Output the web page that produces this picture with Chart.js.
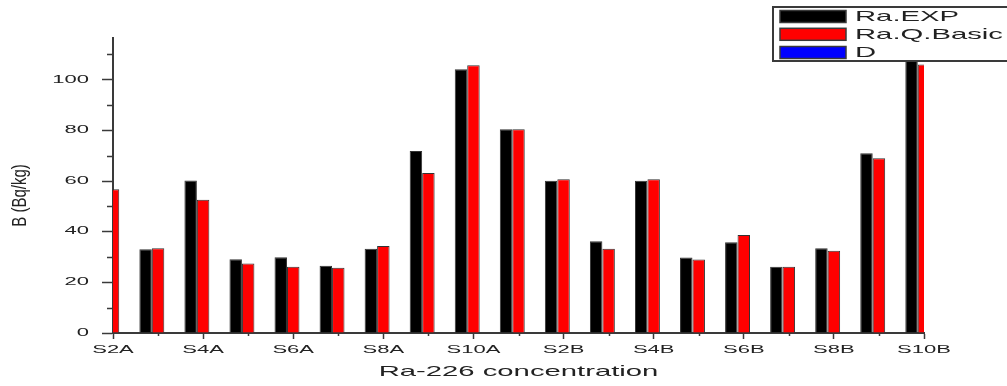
<!DOCTYPE html>
<html>
<head>
<meta charset="utf-8">
<script src="https://cdn.jsdelivr.net/npm/chart.js@4"></script>
<style>
  html, body { margin: 0; padding: 0; background: #ffffff; }
  #wrap { width: 1007px; height: 386px; position: relative; }
</style>
</head>
<body>
<div id="wrap"><canvas id="c" width="1007" height="386"></canvas></div>
<script>
// ---- data ----
const categories = ['S2A','S3A','S4A','S5A','S6A','S7A','S8A','S9A','S10A','S1B','S2B','S3B','S4B','S5B','S6B','S7B','S8B','S9B','S10B'];
const raExp     = [57, 33.1, 60.2, 29.1, 29.9, 26.6, 33.3, 71.9, 104.2, 80.5, 60.1, 36.2, 60.1, 29.8, 35.8, 26.2, 33.5, 71.0, 112];
const raQBasic  = [56.8, 33.5, 52.6, 27.4, 26.2, 25.8, 34.4, 63.2, 105.7, 80.5, 60.7, 33.3, 60.7, 29.0, 38.7, 26.2, 32.5, 69.0, 106];
const dValues   = [null, null, null, null, null, null, null, null, null, null, null, null, null, null, null, null, null, null, null];
const seriesLabels = ['Ra.EXP', 'Ra.Q.Basic', 'D'];
const yMajorTicks = [0, 20, 40, 60, 80, 100];
const yMinorTicks = [10, 30, 50, 70, 90, 110];
const xTitle = 'Ra-226 concentration';
const yTitle = 'B (Bq/kg)';

const FONT = "'Liberation Sans', Arial, sans-serif";
const AXIS = '#3a3a3a';
const TEXT = '#222222';

const canvas = document.getElementById('c');
const ctx = canvas.getContext('2d');
// The reference text is horizontally stretched: widen glyphs around their anchor.
const origFill = ctx.fillText.bind(ctx);
ctx.fillText = function (text, x, y, maxWidth) {
  const t = this.getTransform();
  const m = /(\d+(?:\.\d+)?)px/.exec(this.font);
  const size = m ? parseFloat(m[1]) : 12;
  const rotated = Math.abs(t.b) > 1e-6 || Math.abs(t.c) > 1e-6;
  let sx, sy, dx = 0;
  if (rotated) { sx = 1; sy = 1.3; dx = -10; }
  else { sx = size <= 12 ? 2.2 : 1.95; sy = 1; }
  this.save();
  this.translate(x, y);
  this.scale(sx, sy);
  if (maxWidth === undefined) origFill(text, dx, 0); else origFill(text, dx, 0, maxWidth / sx);
  this.restore();
};

const minorTicks = {
  id: 'minorTicks',
  afterDraw(chart) {
    const c = chart.ctx;
    const ys = chart.scales.y, xs = chart.scales.x;
    const area = chart.chartArea;
    c.save();
    c.strokeStyle = AXIS;
    c.lineWidth = 1.5;
    c.beginPath();
    yMinorTicks.forEach(v => {
      const py = Math.round(ys.getPixelForValue(v)) + 0.5;
      c.moveTo(area.left - 6, py);
      c.lineTo(area.left, py);
    });
    categories.forEach((cat, i) => {
      if (i % 2 === 1) {
        const px = Math.round(xs.getPixelForValue(i)) + 0.5;
        c.moveTo(px, area.bottom);
        c.lineTo(px, area.bottom + 3);
      }
    });
    c.stroke();
    c.restore();
  }
};

const boxLegend = {
  id: 'boxLegend',
  afterDraw(chart) {
    const c = chart.ctx;
    c.save();
    c.fillStyle = '#ffffff';
    c.fillRect(773, 7, 260, 54);
    c.strokeStyle = AXIS;
    c.lineWidth = 2;
    c.strokeRect(773, 7, 260, 54);
    const rows = [16.5, 34.3, 52.5];
    chart.data.datasets.forEach((ds, i) => {
      const cy = rows[i];
      c.fillStyle = ds.backgroundColor;
      c.fillRect(780, cy - 6, 66, 12);
      c.strokeStyle = AXIS;
      c.lineWidth = 1.5;
      c.strokeRect(780, cy - 6, 66, 12);
      c.fillStyle = TEXT;
      c.font = '15px ' + FONT;
      c.textAlign = 'left';
      c.textBaseline = 'middle';
      c.fillText(ds.label, 855, cy + 0.5);
    });
    c.restore();
  }
};

Chart.defaults.font.family = FONT;
Chart.defaults.color = TEXT;

new Chart(canvas, {
  type: 'bar',
  data: {
    labels: categories,
    datasets: [
      { label: seriesLabels[0], data: raExp,    backgroundColor: '#000000', borderColor: '#333333', borderWidth: 1, clip: 0 },
      { label: seriesLabels[1], data: raQBasic, backgroundColor: '#ff0000', borderColor: '#333333', borderWidth: 1, clip: 0 },
      { label: seriesLabels[2], data: dValues,  backgroundColor: '#0000ff', borderColor: '#333333', borderWidth: 1, clip: 0 }
    ]
  },
  options: {
    responsive: false,
    devicePixelRatio: 1,
    animation: false,
    categoryPercentage: 0.83,
    barPercentage: 1.0,
    layout: { padding: { top: 38, right: 83, bottom: 0, left: 0 } },
    plugins: {
      legend: { display: false },
      tooltip: { enabled: false },
      title: { display: false }
    },
    scales: {
      x: {
        type: 'category',
        offset: false,
        afterFit(scale) { scale.height = 53; },
        grid: {
          offset: false,
          drawOnChartArea: false,
          drawTicks: true,
          tickLength: 6,
          tickWidth: 1.5,
          tickColor: (c) => (c.index % 2 === 0 ? AXIS : 'rgba(0,0,0,0)')
        },
        border: { display: true, color: AXIS, width: 2 },
        ticks: {
          autoSkip: false,
          maxRotation: 0,
          minRotation: 0,
          padding: 5,
          font: { size: 10 },
          color: TEXT,
          callback: function (value, index) { return index % 2 === 0 ? this.getLabelForValue(value) : ''; }
        },
        title: { display: true, text: xTitle, font: { size: 15 }, color: TEXT, padding: { top: 0, bottom: 5 } }
      },
      y: {
        min: 0,
        max: 116.5,
        afterFit(scale) { scale.width = 113; },
        grid: {
          drawOnChartArea: false,
          drawTicks: true,
          tickLength: 11,
          tickWidth: 1.5,
          tickColor: (c) => (c.tick && yMajorTicks.includes(c.tick.value) ? AXIS : 'rgba(0,0,0,0)')
        },
        border: { display: true, color: AXIS, width: 2 },
        ticks: {
          stepSize: 10,
          includeBounds: false,
          padding: 13,
          font: { size: 10 },
          color: TEXT,
          callback: (v) => (yMajorTicks.includes(v) ? String(v) : '')
        },
        title: { display: true, text: yTitle, font: { size: 15 }, color: TEXT, padding: { top: 12, bottom: 0 } }
      }
    }
  },
  plugins: [minorTicks, boxLegend]
});
</script>
</body>
</html>
